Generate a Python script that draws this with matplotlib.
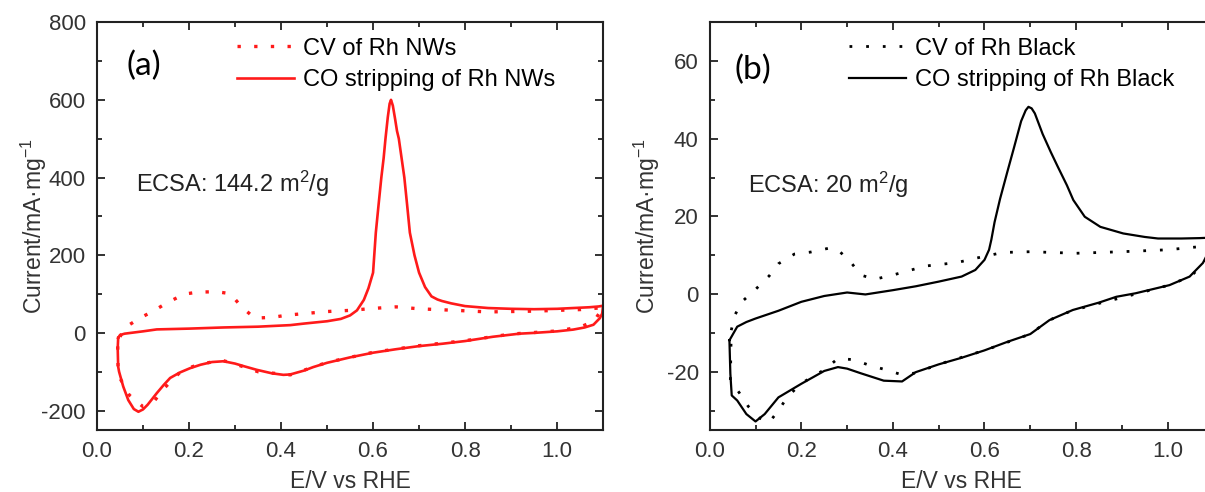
import numpy as np
import matplotlib
matplotlib.use("Agg")
import matplotlib.pyplot as plt
from matplotlib.ticker import MultipleLocator

plt.rcParams['font.family'] = ['Liberation Sans', 'DejaVu Sans']
plt.rcParams['mathtext.fontset'] = 'custom'
plt.rcParams['mathtext.rm'] = 'Liberation Sans'
plt.rcParams['mathtext.it'] = 'Liberation Sans:italic'
plt.rcParams['axes.unicode_minus'] = False

# ---- Rh NWs: CO stripping (forward + reverse sweep) ----
nw_co_fwd_x = [0.046, 0.05, 0.06, 0.08, 0.10, 0.13, 0.20, 0.275, 0.35, 0.42, 0.45,
               0.50, 0.53, 0.55, 0.565, 0.58, 0.59, 0.60, 0.606, 0.612, 0.618, 0.623,
               0.627, 0.632, 0.636, 0.639, 0.643, 0.648, 0.652, 0.656, 0.662, 0.668,
               0.674, 0.68, 0.69, 0.70, 0.713, 0.727, 0.74, 0.75, 0.77, 0.80, 0.85,
               0.90, 0.95, 1.00, 1.035, 1.07, 1.09, 1.10]
nw_co_fwd_y = [-13, -5.5, -2, 1, 4, 9, 11, 14, 16, 20, 24,
               30, 36, 45, 58, 85, 115, 155, 258, 330, 400, 450,
               500, 555, 590, 600, 585, 550, 520, 500, 450, 400,
               330, 258, 200, 155, 118, 94, 86, 82, 76, 69, 64,
               62, 61, 62, 64, 66, 68, 70]
nw_co_rev_x = [1.10, 1.098, 1.093, 1.079, 1.06, 1.035, 1.00, 0.95, 0.918, 0.86, 0.80,
               0.75, 0.70, 0.65, 0.60, 0.55, 0.50, 0.47, 0.45, 0.42, 0.405, 0.38, 0.347,
               0.32, 0.30, 0.275, 0.25, 0.225, 0.202, 0.18, 0.159, 0.145, 0.13, 0.11,
               0.10, 0.09, 0.08, 0.068, 0.057, 0.048, 0.046, 0.045, 0.046]
nw_co_rev_y = [70, 50, 38, 21, 14, 8.5, 4, 0, -2, -10, -21,
               -28, -34, -42, -51, -63, -77, -88, -97, -107, -108, -104, -95,
               -86, -79, -73, -75, -82, -91, -102, -116, -134, -155, -185,
               -197, -203, -196, -173, -138, -100, -87, -40, -13]

# ---- Rh NWs: blank CV ----
nw_cv_x = [0.05, 0.061, 0.093, 0.122, 0.153, 0.19, 0.22, 0.26, 0.29, 0.314, 0.343, 0.38,
           0.416, 0.50, 0.55, 0.60, 0.65, 0.70, 0.78, 0.85, 0.95, 1.05, 1.10,
           1.08, 1.05, 1.00, 0.90, 0.80, 0.70, 0.60, 0.50, 0.42, 0.35, 0.30, 0.27,
           0.22, 0.185, 0.148, 0.126, 0.10, 0.07, 0.046, 0.045, 0.05]
nw_cv_y = [-10, 14, 38, 56, 78, 100, 105, 106, 101, 67, 38, 40,
           46, 55, 58, 63, 67, 62, 58, 54, 56, 60, 65,
           30, 15, 5, -3, -20, -33, -50, -76, -108, -100, -80, -70,
           -82, -96, -140, -173, -190, -160, -108, -30, -10]

# ---- Rh Black: CO stripping ----
bk_co_fwd_x = [0.043, 0.045, 0.06, 0.08, 0.10, 0.15, 0.20, 0.25, 0.30, 0.34, 0.40,
               0.45, 0.50, 0.55, 0.58, 0.60, 0.61, 0.615, 0.622, 0.634, 0.65, 0.664,
               0.68, 0.69, 0.696, 0.703, 0.71, 0.727, 0.745, 0.76, 0.78, 0.794, 0.819,
               0.853, 0.903, 0.95, 0.979, 1.03, 1.07, 1.09, 1.10]
bk_co_fwd_y = [-11.9, -11.5, -8.4, -7.2, -6.3, -4.3, -2.0, -0.5, 0.4, -0.1, 1.0,
               2.0, 3.2, 4.5, 6.2, 8.8, 11.4, 14.0, 18.5, 24.5, 31.5, 37.5,
               44.5, 47.3, 48.2, 47.8, 46.5, 41.2, 36.5, 32.8, 28.0, 24.2, 19.9,
               17.3, 15.6, 14.7, 14.3, 14.3, 14.4, 14.5, 14.6]
bk_co_rev_x = [1.10, 1.09, 1.077, 1.048, 1.004, 0.93, 0.888, 0.85, 0.793, 0.742, 0.70,
               0.65, 0.60, 0.55, 0.50, 0.45, 0.42, 0.38, 0.33, 0.30, 0.28, 0.25,
               0.20, 0.15, 0.12, 0.10, 0.08, 0.06, 0.048, 0.045, 0.043]
bk_co_rev_y = [14.6, 11.0, 8.0, 4.5, 2.3, 0.2, -0.7, -2.2, -4.1, -6.7, -10.3,
               -12.3, -14.5, -16.4, -18.1, -20.1, -22.5, -22.3, -20.4, -19.2, -18.8, -19.8,
               -23.1, -26.6, -30.9, -32.8, -30.9, -27.4, -26.1, -20.5, -11.9]

# ---- Rh Black: blank CV ----
bk_cv_x = [0.047, 0.055, 0.07, 0.10, 0.13, 0.15, 0.185, 0.22, 0.26, 0.28, 0.31, 0.33,
           0.36, 0.40, 0.44, 0.47, 0.54, 0.58, 0.64, 0.70, 0.80, 0.90, 1.00, 1.07, 1.10,
           1.08, 1.05, 1.00, 0.93, 0.85, 0.79, 0.74, 0.70, 0.60, 0.50, 0.45, 0.42,
           0.385, 0.35, 0.315, 0.28, 0.25, 0.20, 0.17, 0.15, 0.13, 0.11, 0.084, 0.065,
           0.045, 0.047]
bk_cv_y = [-9.3, -5.4, -2.0, 1.2, 4.7, 7.8, 10.3, 10.8, 11.8, 11.4, 7.9, 4.9,
           3.8, 4.9, 6.2, 7.2, 8.1, 9.2, 10.7, 10.9, 10.5, 10.9, 11.4, 12.2, 12.8,
           8.0, 4.5, 2.2, 0.0, -2.4, -4.3, -6.8, -10.3, -14.5, -18.1, -20.3, -20.8,
           -19.5, -18.4, -16.9, -16.6, -19.5, -23.0, -26.4, -30.0, -33.0, -32.0, -28.9, -25.5,
           -22.2, -9.3]

fig = plt.figure(figsize=(12.05, 4.92), dpi=100)
ax1 = fig.add_axes([0.0805, 0.126, 0.42, 0.829])
ax2 = fig.add_axes([0.589, 0.126, 0.418, 0.829])

RED = '#ff1a1a'
TICK_FS = 16
LABEL_FS = 16.5
LEG_FS = 17
TAG_FONT = ['Lato', 'DejaVu Sans']


def style_axes(ax, ymajor, yminor):
    ax.xaxis.set_major_locator(MultipleLocator(0.2))
    ax.xaxis.set_minor_locator(MultipleLocator(0.1))
    ax.yaxis.set_major_locator(MultipleLocator(ymajor))
    ax.yaxis.set_minor_locator(MultipleLocator(yminor))
    ax.tick_params(which='both', direction='in', top=True, right=True,
                   labelsize=TICK_FS, colors='#222222', labelcolor='#333333', width=1.3)
    ax.tick_params(which='major', length=6, pad=8)
    ax.tick_params(which='minor', length=3.5)
    for s in ax.spines.values():
        s.set_linewidth(1.5)
        s.set_color('#222222')
    ax.set_xlabel('E/V vs RHE', fontsize=LABEL_FS, color='#333333', labelpad=6)
    ax.set_ylabel('Current/mA·mg$^{-1}$', fontsize=LABEL_FS, color='#333333')
    ax.yaxis.set_label_coords(-0.094, 0.5)


def add_legend(ax):
    ax.legend(loc='upper left', bbox_to_anchor=(0.277, 0.962), frameon=False,
              fontsize=LEG_FS, handlelength=2.4, handletextpad=0.38,
              labelspacing=0.4, borderpad=0, borderaxespad=0)


# panel (a)
ax1.plot(nw_cv_x, nw_cv_y, color=RED, lw=2.4, ls=(0, (1, 4)), label='CV of Rh NWs')
ax1.plot(nw_co_fwd_x + nw_co_rev_x, nw_co_fwd_y + nw_co_rev_y, color=RED, lw=1.9,
         label='CO stripping of Rh NWs')
ax1.set_xlim(0.0, 1.1)
ax1.set_ylim(-250, 800)
style_axes(ax1, 200, 100)
ax1.text(0.102, 687, '(a)', fontsize=24, ha='center', va='center', family=TAG_FONT)
ax1.text(0.085, 384, 'ECSA: 144.2 m$^2$/g', fontsize=17, ha='left', va='center', color='#222222')
add_legend(ax1)

# panel (b)
ax2.plot(bk_cv_x, bk_cv_y, color='black', lw=2.0, ls=(0, (1, 5)), label='CV of Rh Black')
ax2.plot(bk_co_fwd_x + bk_co_rev_x, bk_co_fwd_y + bk_co_rev_y, color='black', lw=1.6,
         label='CO stripping of Rh Black')
ax2.set_xlim(0.0, 1.1)
ax2.set_ylim(-35, 70)
style_axes(ax2, 20, 10)
ax2.text(0.094, 57.6, '(b)', fontsize=24, ha='center', va='center', family=TAG_FONT)
ax2.text(0.084, 28, 'ECSA: 20 m$^2$/g', fontsize=17, ha='left', va='center', color='#222222')
add_legend(ax2)

fig.savefig('out.png', dpi=100)
